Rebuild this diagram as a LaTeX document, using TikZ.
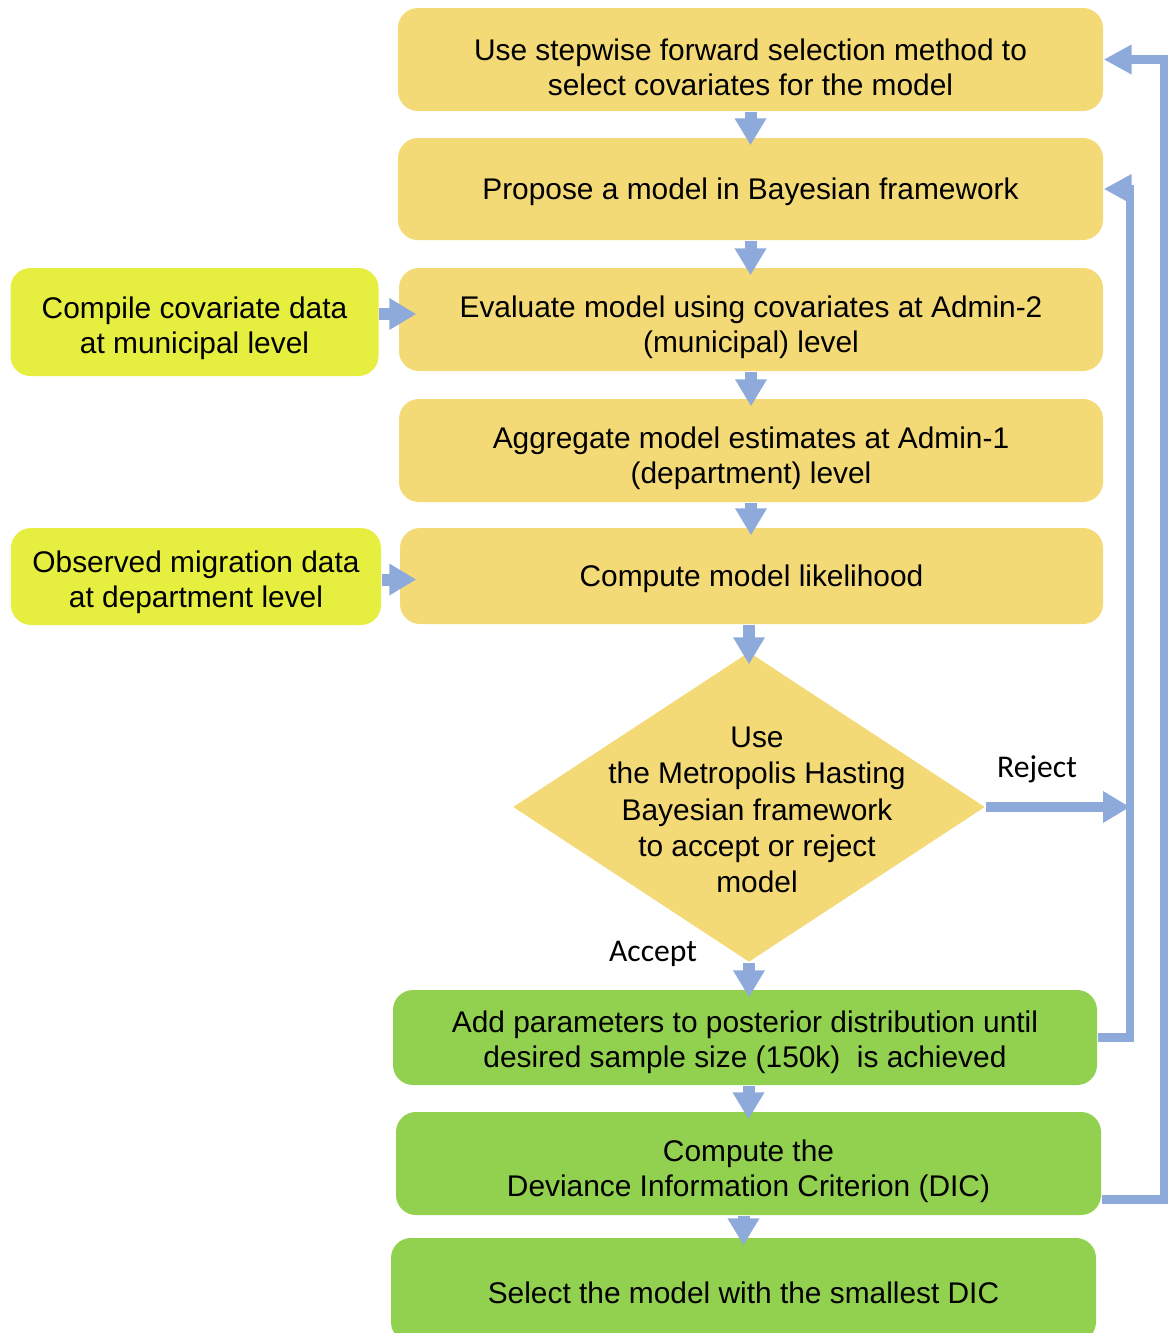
\documentclass[tikz,border=0pt]{standalone}
\usepackage{fontspec}
\setmainfont{Liberation Sans}
\newfontfamily\calibrifont{Carlito}
\usetikzlibrary{shapes.geometric, arrows.meta}

\definecolor{stepyellow}{HTML}{F4DA76}
\definecolor{datalime}{HTML}{E6EF40}
\definecolor{postgreen}{HTML}{92D050}
\definecolor{flowblue}{HTML}{8EAADB}

\begin{document}
\begin{tikzpicture}[
		box/.style={rounded corners=0.2cm, inner sep=0pt, minimum width=7.05cm, minimum height=1.03cm, align=center, text height=7.9pt, font=\fontsize{8.5}{10}\selectfont},
		twoline/.style={text height=20.8pt},
		stepbox/.style={box, fill=stepyellow},
		databox/.style={box, text height=19.6pt, fill=datalime, minimum width=3.68cm},
		postbox/.style={box, fill=postgreen},
		decision/.style={diamond, fill=stepyellow, inner sep=0pt, minimum width=4.72cm, minimum height=3.10cm},
		flow/.style={draw=flowblue, line width=0.12cm, -{Triangle[width=0.3cm, length=0.27cm]}, shorten >=-0.08cm},
		feedback/.style={draw=flowblue, line width=0.085cm, -{Triangle[width=0.28cm, length=0.28cm]}},
		answer/.style={font=\calibrifont\fontsize{9}{11}\selectfont}
	]
	\path[use as bounding box] (0,0) rectangle (11.75,-13.33);
	
	% Main steps
	\node[stepbox, twoline] (select) at (7.505,-0.595) {Use stepwise forward selection method to\\select covariates for the model};
	\node[stepbox, minimum height=1.02cm] (propose) at (7.505,-1.89) {Propose a model in Bayesian framework};
	\node[stepbox, twoline, minimum width=7.04cm] (evaluate) at (7.51,-3.195) {Evaluate model using covariates at Admin-2\\(municipal) level};
	\node[stepbox, twoline, minimum width=7.04cm] (aggregate) at (7.51,-4.505) {Aggregate model estimates at Admin-1\\(department) level};
	\node[stepbox, minimum width=7.03cm, minimum height=0.96cm] (likelihood) at (7.515,-5.76) {Compute model likelihood};
	
	% Decision
	\node[decision] (check) at (7.49,-8.07) {};
	\node[align=center, inner sep=0pt, font=\fontsize{8.5}{10.3}\selectfont] (checktext) at (7.57,-8.1) {Use\\the Metropolis Hasting\\Bayesian framework\\to accept or reject\\model};
	
	% Posterior steps
	\node[postbox, text height=18.8pt, minimum width=7.04cm, minimum height=0.95cm] (posterior) at (7.45,-10.375) {Add parameters to posterior distribution until\\desired sample size (150k)\ \ is achieved};
	\node[postbox, twoline] (dic) at (7.485,-11.635) {Compute the\\Deviance Information Criterion (DIC)};
	\node[postbox, minimum height=1.04cm] (smallest) at (7.435,-12.9) {Select the model with the smallest DIC};
	
	% Input data
	\node[databox, minimum height=1.08cm] (covdata) at (1.945,-3.22) {Compile covariate data\\at municipal level};
	\node[databox, minimum width=3.70cm, minimum height=0.97cm] (migdata) at (1.96,-5.765) {Observed migration data\\at department level};
	
	% Labels
	\node[answer] (rejectlabel) at (10.37,-7.69) {Reject};
	\node[answer] (acceptlabel) at (6.53,-9.54) {Accept};
	
	% Buses on the right
	\coordinate (innerbus) at (11.30,0);
	\coordinate (outerbus) at (11.64,0);
	
	% Arrows down
	\draw[flow] (select.south) -- (select.south |- propose.north);
	\draw[flow] (propose.south) -- (propose.south |- evaluate.north);
	\draw[flow] (evaluate.south) -- (evaluate.south |- aggregate.north);
	\draw[flow] (aggregate.south) -- (aggregate.south |- likelihood.north);
	\draw[flow, shorten >=-0.13cm] (likelihood.south -| check.north) -- (check.north);
	\draw[flow] (check.south) -- (check.south |- posterior.north);
	\draw[flow] (posterior.south -| dic.north) -- (dic.north);
	\draw[flow] (dic.south -| smallest.north) -- (smallest.north);
	
	% Arrows from data
	\draw[flow, shorten >=-0.18cm] ([yshift=0.08cm]covdata.east) -- ([yshift=0.08cm]covdata.east -| evaluate.west);
	\draw[flow, shorten >=-0.17cm] ([yshift=-0.03cm]migdata.east) -- ([yshift=-0.03cm]migdata.east -| likelihood.west);
	
	% Reject and feedback
	\draw[flow, line width=0.1cm, shorten >=0cm] (check.east) -- (check.east -| innerbus);
	\draw[feedback] (posterior.east) -| (innerbus |- propose.east) -- (propose.east);
	\draw[feedback] ([yshift=-0.36cm]dic.east) -| (outerbus |- select.east) -- (select.east);
\end{tikzpicture}
\end{document}
